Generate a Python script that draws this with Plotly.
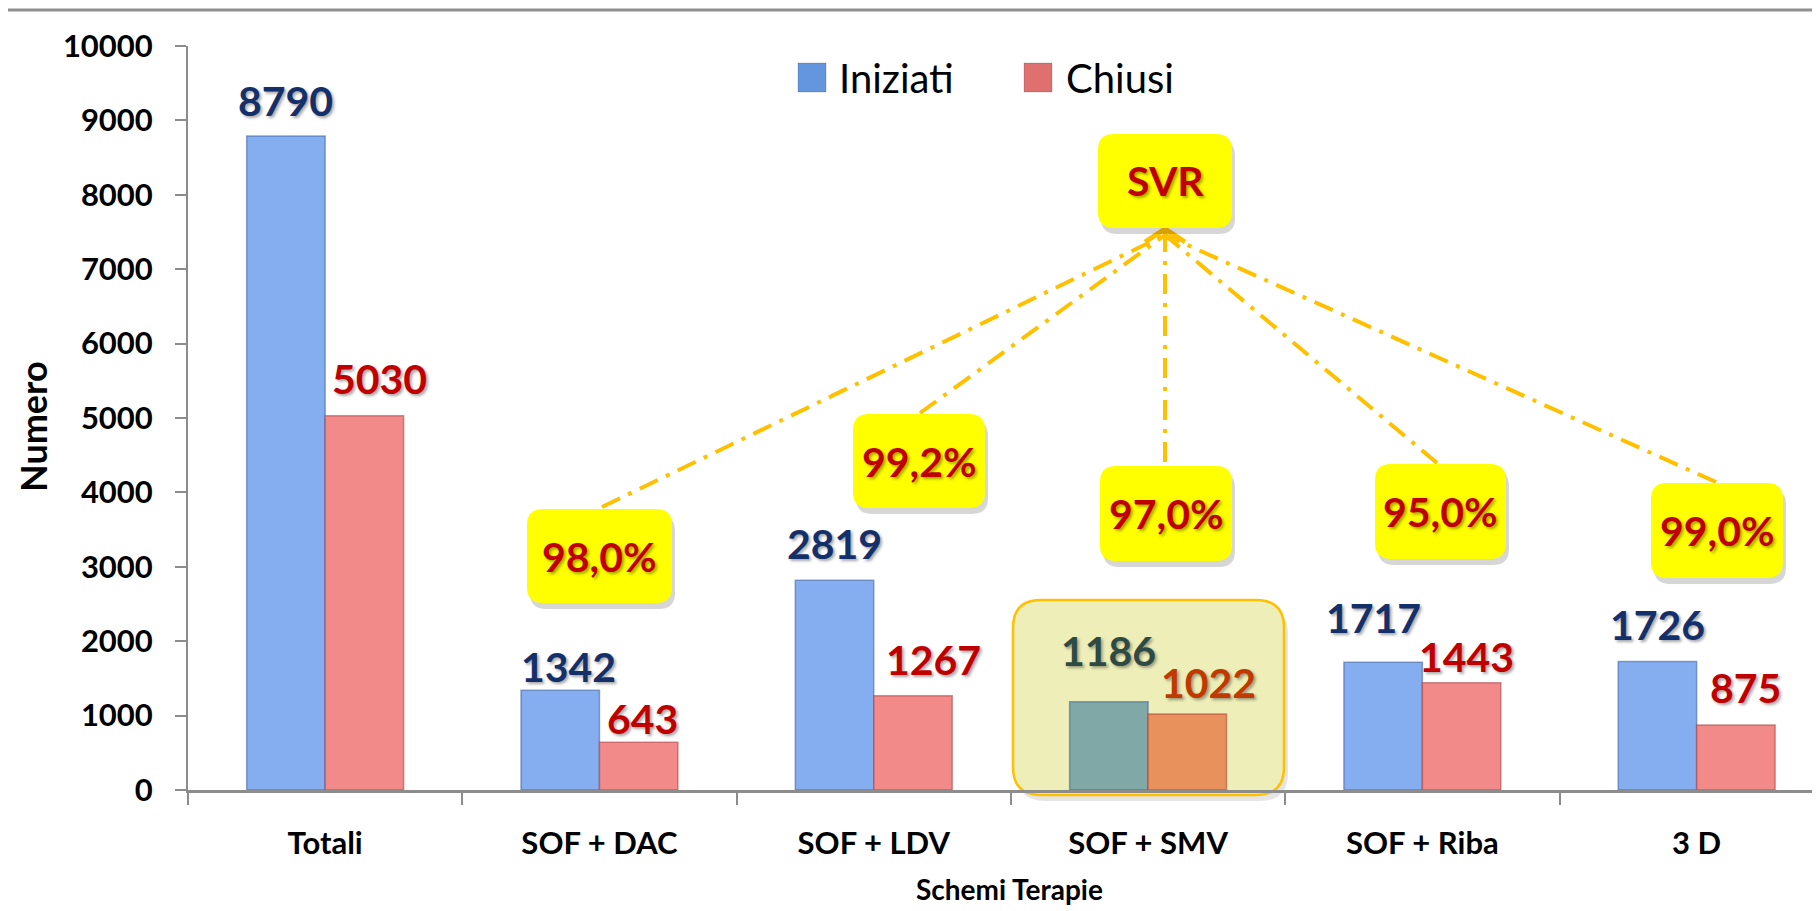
import plotly.graph_objects as go

# ---------------- data ----------------
categories = ["Totali", "SOF + DAC", "SOF + LDV", "SOF + SMV", "SOF + Riba", "3 D"]
iniziati = [8790, 1342, 2819, 1186, 1717, 1726]
chiusi = [5030, 643, 1267, 1022, 1443, 875]
svr_labels = ["98,0%", "99,2%", "97,0%", "95,0%", "99,0%"]
svr_title = "SVR"
y_ticks = list(range(0, 10001, 1000))
y_ticktext = [str(v) for v in y_ticks]
series_names = ["Iniziati", "Chiusi"]

# ---------------- layout geometry (screen pixels) ----------------
PAGE_OFF = 8            # default body margin of the html page
SW, SH = 1820, 911      # screen size
W, H = SW - PAGE_OFF, SH - PAGE_OFF
L_S, T_S, BOT_S = 188, 46, 790   # plot area edges on screen
PW = SW - L_S
PH = BOT_S - T_S
CAT_PX = 274.3
FONT = "Lato, 'Open Sans', sans-serif"


def px(x):
    return (x - L_S) / PW


def py(y):
    return (BOT_S - y) / PH


def rrect_path(x0, y0, x1, y1, r):
    pts = [
        ("M", [(x0 + r, y0)]),
        ("L", [(x1 - r, y0)]),
        ("Q", [(x1, y0), (x1, y0 + r)]),
        ("L", [(x1, y1 - r)]),
        ("Q", [(x1, y1), (x1 - r, y1)]),
        ("L", [(x0 + r, y1)]),
        ("Q", [(x0, y1), (x0, y1 - r)]),
        ("L", [(x0, y0 + r)]),
        ("Q", [(x0, y0), (x0 + r, y0)]),
    ]
    s = ""
    for cmd, pp in pts:
        s += cmd + " " + " ".join(f"{px(a):.5f},{py(b):.5f}" for a, b in pp) + " "
    return s + "Z"


# styles
blue_colors = ["#84AEEF"] * 6
red_colors = ["#F28A8A"] * 6
blue_colors[3] = "#7FA8A6"
red_colors[3] = "#E8915C"
blue_lab = ["#13306A"] * 6
red_lab = ["#C00000"] * 6
blue_lab[3] = "#2E4A45"
red_lab[3] = "#C03A00"
blue_off = [36, 24, 37, 51, 45, 37]
red_off = [37, 24, 36, 31, 26, 37]
blue_dx = [0, 8, 0, 0, -10, 0]
red_dx = [15, 4, 21, 21, 5, 10]

pct_boxes = [(527, 509, 672, 603), (853, 414, 985, 508), (1100, 466, 1232, 561),
             (1375, 464, 1506, 559), (1651, 483, 1783, 578)]
svr_box = (1098, 134, 1232, 228)
line_starts = [(602, 507), (920, 413), (1165, 462), (1437, 463), (1716, 482)]
tip = (1165, 229)
highlight = (1013, 600, 1284, 795)

fig = go.Figure()
fig.add_trace(go.Bar(x=categories, y=iniziati, name=series_names[0],
                     marker=dict(color=blue_colors, line=dict(color="rgba(60,95,160,0.55)", width=1.5)),
                     showlegend=False, hoverinfo="x+y"))
fig.add_trace(go.Bar(x=categories, y=chiusi, name=series_names[1],
                     marker=dict(color=red_colors, line=dict(color="rgba(170,60,60,0.55)", width=1.5)),
                     showlegend=False, hoverinfo="x+y"))

shapes = []
annotations = []
shadow = "2px 2px 3px rgba(0,0,0,0.35)"

# top rule
shapes.append(dict(type="line", xref="paper", yref="paper", x0=px(PAGE_OFF), x1=px(SW), y0=py(10), y1=py(10),
                   line=dict(color="#8F8F8F", width=3)))

# highlight region (below bars)
hx0, hy0, hx1, hy1 = highlight
shapes.append(dict(type="path", xref="paper", yref="paper", layer="below",
                   path=rrect_path(hx0 + 4, hy0 + 6, hx1 + 4, hy1 + 6, 28),
                   fillcolor="rgba(0,0,0,0.10)", line=dict(width=0)))
shapes.append(dict(type="path", xref="paper", yref="paper", layer="below",
                   path=rrect_path(hx0, hy0, hx1, hy1, 28),
                   fillcolor="#EEEEB8", line=dict(color="#FFC000", width=2.5)))

# dash-dot connector lines
for (sx, sy) in line_starts:
    shapes.append(dict(type="line", xref="paper", yref="paper",
                       x0=px(sx), y0=py(sy), x1=px(tip[0]), y1=py(tip[1] + 6),
                       line=dict(color="#FFC000", width=4, dash="20px,9px,4px,9px")))
# arrow head
shapes.append(dict(type="path", xref="paper", yref="paper",
                   path=f"M {px(tip[0]-20):.5f},{py(tip[1]+13):.5f} L {px(tip[0]):.5f},{py(tip[1]):.5f} L {px(tip[0]+20):.5f},{py(tip[1]+13):.5f}",
                   line=dict(color="#FFC000", width=5)))
shapes.append(dict(type="line", xref="paper", yref="paper",
                   x0=px(tip[0]), y0=py(tip[1]), x1=px(tip[0]), y1=py(tip[1] + 20),
                   line=dict(color="#FFC000", width=4)))

# yellow boxes
for (x0, y0, x1, y1) in pct_boxes + [svr_box]:
    shapes.append(dict(type="path", xref="paper", yref="paper",
                       path=rrect_path(x0 + 3, y0 + 6, x1 + 3, y1 + 6, 16),
                       fillcolor="rgba(0,0,0,0.16)", line=dict(width=0)))
    shapes.append(dict(type="path", xref="paper", yref="paper",
                       path=rrect_path(x0, y0, x1, y1, 16),
                       fillcolor="#FFFF00", line=dict(width=0)))

for lab, (x0, y0, x1, y1) in zip(svr_labels, pct_boxes):
    annotations.append(dict(xref="paper", yref="paper", x=px((x0 + x1) / 2), y=py((y0 + y1) / 2),
                            text=lab, showarrow=False, xanchor="center", yanchor="middle",
                            font=dict(family=FONT, size=41, color="#C00000", weight="bold", shadow=shadow)))
sx0, sy0, sx1, sy1 = svr_box
annotations.append(dict(xref="paper", yref="paper", x=px((sx0 + sx1) / 2), y=py((sy0 + sy1) / 2),
                        text=svr_title, showarrow=False, xanchor="center", yanchor="middle",
                        font=dict(family=FONT, size=41, color="#C00000", weight="bold", shadow=shadow)))

# value labels
half = 0.143
for i in range(len(categories)):
    annotations.append(dict(xref="x", yref="y", x=i - half, y=iniziati[i], text=str(iniziati[i]),
                            showarrow=False, xanchor="center", yanchor="middle",
                            yshift=blue_off[i], xshift=blue_dx[i],
                            font=dict(family=FONT, size=41, color=blue_lab[i], weight="bold", shadow=shadow)))
    annotations.append(dict(xref="x", yref="y", x=i + half, y=chiusi[i], text=str(chiusi[i]),
                            showarrow=False, xanchor="center", yanchor="middle",
                            yshift=red_off[i], xshift=red_dx[i],
                            font=dict(family=FONT, size=41, color=red_lab[i], weight="bold", shadow=shadow)))

# manual legend
leg = [(798, "#6396DE", series_names[0], 837), (1024, "#DE7070", series_names[1], 1064)]
for (lx, col, name, tx) in leg:
    shapes.append(dict(type="rect", xref="paper", yref="paper",
                       x0=px(lx), x1=px(lx + 28), y0=py(63), y1=py(92),
                       fillcolor=col, line=dict(color="rgba(0,0,0,0.15)", width=1)))
    annotations.append(dict(xref="paper", yref="paper", x=px(tx), y=py(78), text=name,
                            showarrow=False, xanchor="left", yanchor="middle",
                            font=dict(family=FONT, size=40, color="black")))

# axis titles
annotations.append(dict(xref="paper", yref="paper", x=px(1009), y=py(889), text="Schemi Terapie",
                        showarrow=False, xanchor="center", yanchor="middle",
                        font=dict(family=FONT, size=28, color="black", weight="bold")))
annotations.append(dict(xref="paper", yref="paper", x=px(PAGE_OFF + 1), y=py(427), text="Numero",
                        showarrow=False, xanchor="left", yanchor="middle", textangle=-90,
                        font=dict(family=FONT, size=36, color="black", weight="bold")))

fig.update_layout(
    width=W, height=H,
    margin=dict(l=L_S - PAGE_OFF, r=0, t=T_S - PAGE_OFF, b=SH - BOT_S, autoexpand=False),
    paper_bgcolor="white", plot_bgcolor="white",
    barmode="group", bargap=0.428, bargroupgap=0,
    showlegend=False,
    shapes=shapes, annotations=annotations,
    xaxis=dict(type="category", range=[-0.5, -0.5 + PW / CAT_PX], tickson="boundaries",
               ticks="outside", ticklen=12, tickwidth=2, tickcolor="#8C8C8C",
               showline=True, linecolor="#8C8C8C", linewidth=2.5, showgrid=False, zeroline=False,
               tickfont=dict(family=FONT, size=31, color="black", weight="bold"),
               ticklabelstandoff=24),
    yaxis=dict(range=[0, 10000], tickvals=y_ticks, ticktext=y_ticktext, ticks="outside", ticklen=11,
               tickwidth=2, tickcolor="#8C8C8C", showline=True, linecolor="#8C8C8C", linewidth=2,
               showgrid=False, zeroline=False,
               tickfont=dict(family=FONT, size=31, color="black", weight="bold"),
               ticklabelstandoff=16),
)

fig.write_html("out.html")
